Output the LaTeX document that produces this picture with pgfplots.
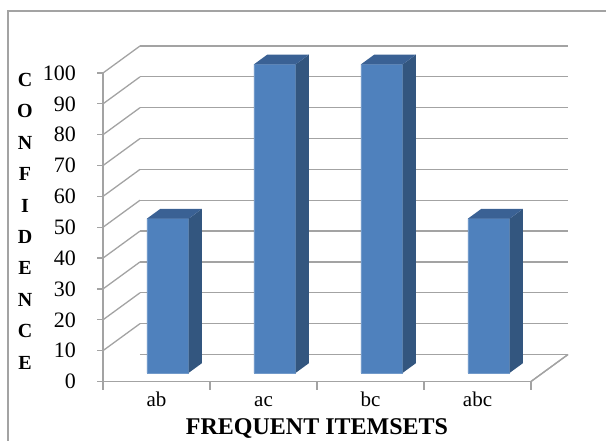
\documentclass[border=0pt]{standalone}
\usepackage{pgfplots}
\pgfplotsset{compat=1.18}
\usepackage{fontspec}
\setmainfont{Liberation Serif}
\definecolor{barfront}{HTML}{4F81BD}
\definecolor{barside}{HTML}{33567F}
\definecolor{bartop}{HTML}{3A6194}
\definecolor{gridgray}{HTML}{A3A3A3}

% one 3-D column: #1 = category index (0,1,2,...), #2 = value
\newcommand{\tdbar}[2]{%
  \pgfmathsetmacro{\xa}{#1+0.30}%
  \pgfmathsetmacro{\xb}{#1+0.69}%
  \addplot3[fill=barfront, draw=barfront!80!white, line width=0.4pt] coordinates
    {(\xa,0.32,0) (\xb,0.32,0) (\xb,0.32,#2) (\xa,0.32,#2) (\xa,0.32,0)};
  \addplot3[fill=barside, draw=none] coordinates
    {(\xb,0.32,0) (\xb,0.68,0) (\xb,0.68,#2) (\xb,0.32,#2) (\xb,0.32,0)};
  \addplot3[fill=bartop, draw=none] coordinates
    {(\xa,0.32,#2) (\xb,0.32,#2) (\xb,0.68,#2) (\xa,0.68,#2) (\xa,0.32,#2)};
}

\begin{document}
\begin{tikzpicture}
\path[use as bounding box] (-103pt,-59.5pt) rectangle (503pt,381.5pt);
\begin{axis}[
  at={(0pt,0pt)}, anchor=origin,
  x={(107pt,0pt)}, y={(37pt,27pt)}, z={(0pt,3.085pt)},
  xmin=0, xmax=4, ymin=0, ymax=1, zmin=0, zmax=100,
  axis lines*=left,
  axis line style={gridgray, line width=1.3pt},
  clip=false,
  ytick=\empty,
  xtick={0.5,1.5,2.5,3.5},
  xticklabels={ab,ac,bc,abc},
  ztick={0,10,...,100},
  major tick length=0pt,
  /pgf/number format/assume math mode=true,
  xticklabel style={font=\fontsize{21}{23}\selectfont, anchor=base, inner sep=0pt, yshift=-25.5pt},
  zticklabel style={font=\fontsize{22}{24}\selectfont, anchor=east, inner sep=0pt, xshift=-27pt},
  xlabel={FREQUENT ITEMSETS},
  every axis x label/.style={at={(rel axis cs:0.5,0,0)}, anchor=base, yshift=-53pt,
     font=\fontsize{24}{26}\selectfont\bfseries},
  zlabel={C\\O\\N\\F\\I\\D\\E\\N\\C\\E},
  every axis z label/.style={at={(rel axis cs:0,0,0.5)}, anchor=center,
     xshift=-78pt, yshift=6pt, align=center,
     font=\fontsize{20}{31.4}\selectfont\bfseries},
]
% back wall gridlines
\addplot3[gridgray, line width=1.3pt, empty line=jump] table {
0 1 0
4 1 0

0 1 10
4 1 10

0 1 20
4 1 20

0 1 30
4 1 30

0 1 40
4 1 40

0 1 50
4 1 50

0 1 60
4 1 60

0 1 70
4 1 70

0 1 80
4 1 80

0 1 90
4 1 90

0 1 100
4 1 100
};
% left wall gridlines
\addplot3[gridgray, line width=1.3pt, empty line=jump] table {
0 0 10
0 1 10

0 0 20
0 1 20

0 0 30
0 1 30

0 0 40
0 1 40

0 0 50
0 1 50

0 0 60
0 1 60

0 0 70
0 1 70

0 0 80
0 1 80

0 0 90
0 1 90

0 0 100
0 1 100
};
% right floor edge
\addplot3[gridgray, line width=1.3pt] coordinates {(4,0,0) (4,1,0)};
% tick marks on the front axes
\addplot3[gridgray, line width=1.3pt, empty line=jump] table {
0 0 0
0 0 -2.6

1 0 0
1 0 -2.6

2 0 0
2 0 -2.6

3 0 0
3 0 -2.6

4 0 0
4 0 -2.6
};
\addplot3[gridgray, line width=1.3pt, empty line=jump] table {
0 0 0
-0.056 0 0

0 0 10
-0.056 0 10

0 0 20
-0.056 0 20

0 0 30
-0.056 0 30

0 0 40
-0.056 0 40

0 0 50
-0.056 0 50

0 0 60
-0.056 0 60

0 0 70
-0.056 0 70

0 0 80
-0.056 0 80

0 0 90
-0.056 0 90

0 0 100
-0.056 0 100
};
% columns: ab, ac, bc, abc
\tdbar{0}{50}
\tdbar{1}{100}
\tdbar{2}{100}
\tdbar{3}{50}
\end{axis}
\draw[gridgray, line width=1.6pt] (-95pt,-60pt) -- (-95pt,370.5pt) -- (504pt,370.5pt);
\end{tikzpicture}
\end{document}
